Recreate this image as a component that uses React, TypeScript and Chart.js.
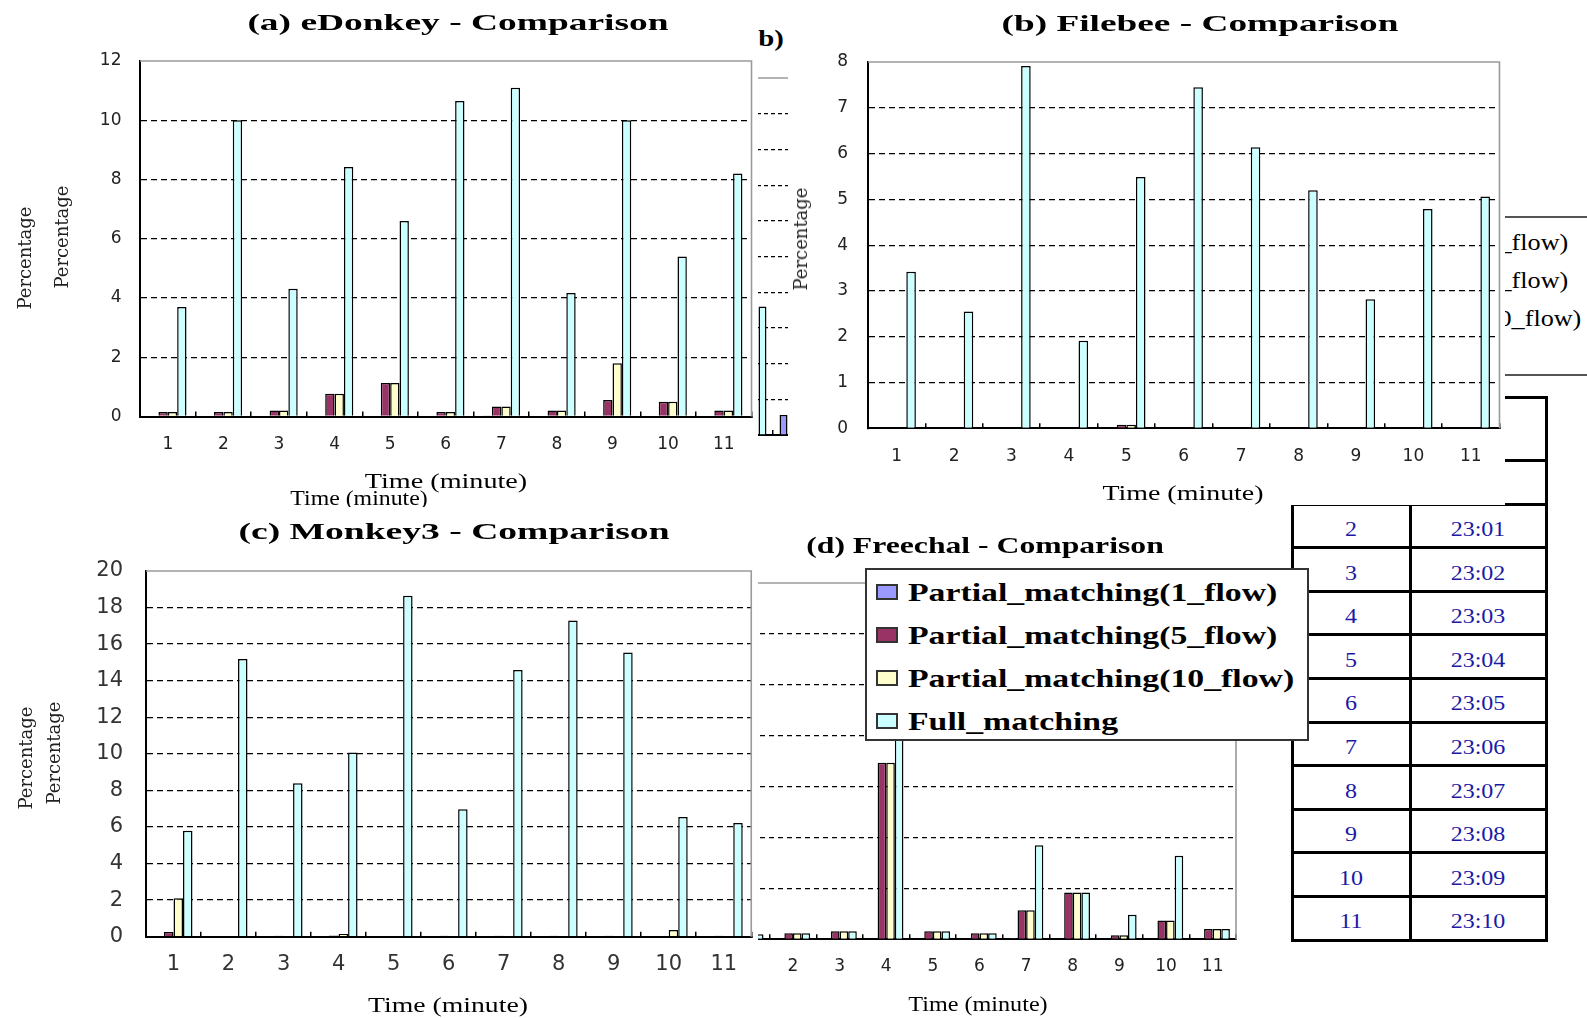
import React, { useEffect, useRef } from 'react';
import { Chart, registerables } from 'chart.js';
Chart.register(...registerables);

// ---------- DATA ----------
const categories = ['1', '2', '3', '4', '5', '6', '7', '8', '9', '10', '11'];
const seriesNames = ['Partial_matching(1_flow)', 'Partial_matching(5_flow)', 'Partial_matching(10_flow)', 'Full_matching'];
const seriesColors = ['#9999FF', '#993366', '#FFFFCC', '#CCFFFF'];

const eDonkeyP1 = [0, 0, 0, 0, 0, 0, 0.03, 0, 0, 0, 0];
const eDonkeyP5 = [0.15, 0.15, 0.2, 0.77, 1.13, 0.15, 0.34, 0.2, 0.56, 0.5, 0.2];
const eDonkeyP10 = [0.15, 0.15, 0.2, 0.77, 1.13, 0.15, 0.34, 0.2, 1.8, 0.5, 0.2];
const eDonkeyFull = [3.7, 10.0, 4.31, 8.42, 6.6, 10.65, 11.1, 4.17, 10.0, 5.4, 8.2];

const filebeeP1 = [0, 0, 0, 0, 0, 0, 0, 0, 0, 0, 0];
const filebeeP5 = [0, 0, 0, 0, 0.08, 0, 0, 0, 0, 0, 0];
const filebeeP10 = [0, 0, 0, 0, 0.08, 0, 0, 0, 0, 0, 0];
const filebeeFull = [3.42, 2.55, 7.91, 1.91, 5.49, 7.45, 6.14, 5.2, 2.82, 4.79, 5.06];

const monkey3P1 = [0, 0, 0, 0, 0, 0, 0, 0, 0, 0, 0];
const monkey3P5 = [0.26, 0, 0.05, 0.07, 0, 0.05, 0.05, 0.05, 0.05, 0, 0.05];
const monkey3P10 = [2.1, 0, 0, 0.15, 0, 0, 0, 0, 0, 0.37, 0];
const monkey3Full = [5.8, 15.19, 8.39, 10.07, 18.64, 6.97, 14.59, 17.29, 15.54, 6.55, 6.22];

const freechalP1 = [0, 0, 0, 0, 0, 0, 0.02, 0, 0, 0, 0];
const freechalP5 = [0.1, 0.12, 0.16, 3.47, 0.16, 0.12, 0.57, 0.92, 0.08, 0.37, 0.2];
const freechalP10 = [0.1, 0.12, 0.16, 3.47, 0.16, 0.12, 0.57, 0.92, 0.08, 0.37, 0.2];
const freechalFull = [0.1, 0.12, 0.16, 5.0, 0.16, 0.12, 1.85, 0.92, 0.48, 1.64, 0.2];

// partially visible panel "b)" between (a) and (b)
const fragmentCategories = ['10', '11'];
const fragmentP1 = [0, 0.56];
const fragmentP5 = [0, 0];
const fragmentP10 = [0, 0];
const fragmentFull = [3.6, 0];

const tableMinutes = categories;
const tableTimes = ['23:00', '23:01', '23:02', '23:03', '23:04', '23:05', '23:06', '23:07', '23:08', '23:09', '23:10'];

// ---------- LAYOUT ----------
type Spec = {
  left: number; top: number; width: number; height: number;
  plotLeft: number; plotRight: number; plotTop: number; plotBottom: number;
  labels: string[]; series: number[][]; yMax: number; yStep: number;
  catPct: number; tickFont: number; tickColor: string;
  showY: boolean; showX: boolean; yPad: number; xPad: number;
  dash: number[]; gridWidth: number;
};

const frame = {
  id: 'frame',
  beforeDatasetsDraw(chart: any) {
    const { ctx, chartArea } = chart;
    const { left, right, top, bottom } = chartArea;
    ctx.save();
    ctx.strokeStyle = '#9a9a9a';
    ctx.lineWidth = 1.6;
    ctx.beginPath();
    ctx.moveTo(left, top);
    ctx.lineTo(right, top);
    ctx.lineTo(right, bottom);
    ctx.stroke();
    ctx.restore();
  },
};

function makeConfig(s: Spec): any {
  const yW = s.plotLeft - s.left;
  const xH = s.top + s.height - s.plotBottom;
  return {
    type: 'bar',
    data: {
      labels: s.labels,
      datasets: s.series.map((d, i) => ({
        label: seriesNames[i],
        data: d,
        backgroundColor: seriesColors[i],
        borderColor: '#000',
        borderWidth: 1.5,
        barPercentage: 1,
        categoryPercentage: s.catPct,
      })),
    },
    options: {
      responsive: false,
      animation: false,
      devicePixelRatio: 1,
      layout: { padding: { left: 0, bottom: 0, top: s.plotTop - s.top, right: s.left + s.width - s.plotRight } },
      plugins: { legend: { display: false }, tooltip: { enabled: false }, title: { display: false } },
      scales: {
        x: {
          type: 'category',
          offset: true,
          z: 1,
          grid: { offset: true, drawOnChartArea: false, drawTicks: true, tickLength: -5, color: '#000', lineWidth: 1.5 },
          border: { display: true, color: '#000', width: 2 },
          ticks: {
            display: s.showX, padding: s.xPad, autoSkip: false, maxRotation: 0,
            font: { family: 'DejaVu Sans', size: s.tickFont }, color: s.tickColor,
          },
          afterFit: (sc: any) => { sc.height = xH; },
        },
        y: {
          min: 0,
          max: s.yMax,
          ticks: {
            stepSize: s.yStep, display: s.showY, padding: s.yPad,
            font: { family: 'DejaVu Sans', size: s.tickFont }, color: s.tickColor,
          },
          grid: {
            drawTicks: false,
            lineWidth: s.gridWidth,
            color: (c: any) => (c.tick && (c.tick.value === 0 || c.tick.value === s.yMax)) ? 'rgba(0,0,0,0)' : '#000',
          },
          border: { display: true, color: '#000', width: 2, dash: s.dash },
          afterFit: (sc: any) => { sc.width = yW; },
        },
      },
    },
    plugins: [frame],
  };
}

const specA: Spec = {
  left: 0, top: 0, width: 758, height: 507,
  plotLeft: 140, plotRight: 754, plotTop: 61, plotBottom: 416.5,
  labels: categories, series: [eDonkeyP1, eDonkeyP5, eDonkeyP10, eDonkeyFull], yMax: 12, yStep: 2,
  catPct: 0.674, tickFont: 17, tickColor: '#222', showY: true, showX: true, yPad: 18.5, xPad: 23.3,
  dash: [6, 4], gridWidth: 1.3,
};
const specB: Spec = {
  left: 788, top: 0, width: 717, height: 505,
  plotLeft: 868, plotRight: 1500.6, plotTop: 62, plotBottom: 428.3,
  labels: categories, series: [filebeeP1, filebeeP5, filebeeP10, filebeeFull], yMax: 8, yStep: 1,
  catPct: 0.668, tickFont: 17, tickColor: '#222', showY: true, showX: true, yPad: 20, xPad: 23.2,
  dash: [6, 4], gridWidth: 1.3,
};
const specC: Spec = {
  left: 0, top: 507, width: 758, height: 511,
  plotLeft: 146, plotRight: 753.7, plotTop: 571, plotBottom: 936.7,
  labels: categories, series: [monkey3P1, monkey3P5, monkey3P10, monkey3Full], yMax: 20, yStep: 2,
  catPct: 0.69, tickFont: 21, tickColor: '#333', showY: true, showX: true, yPad: 23, xPad: 20.7,
  dash: [6, 4], gridWidth: 1.3,
};
const specD: Spec = {
  left: 690, top: 505, width: 599, height: 513,
  plotLeft: 723, plotRight: 1236, plotTop: 583, plotBottom: 939.3,
  labels: categories, series: [freechalP1, freechalP5, freechalP10, freechalFull], yMax: 7, yStep: 1,
  catPct: 0.738, tickFont: 17, tickColor: '#222', showY: false, showX: true, yPad: 10, xPad: 22.2,
  dash: [5, 4], gridWidth: 1.3,
};
const specFrag: Spec = {
  left: 700, top: 0, width: 130, height: 505,
  plotLeft: 728, plotRight: 818, plotTop: 78, plotBottom: 435,
  labels: fragmentCategories, series: [fragmentP1, fragmentP5, fragmentP10, fragmentFull], yMax: 10, yStep: 1,
  catPct: 0.71, tickFont: 17, tickColor: '#222', showY: false, showX: false, yPad: 10, xPad: 20,
  dash: [4, 3], gridWidth: 1.2,
};

// ---------- COMPONENTS ----------
function BarChart({ spec }: { spec: Spec }) {
  const ref = useRef<HTMLCanvasElement>(null);
  useEffect(() => {
    const ch = new Chart(ref.current as HTMLCanvasElement, makeConfig(spec));
    return () => ch.destroy();
  }, []);
  return (
    <canvas
      ref={ref}
      width={spec.width}
      height={spec.height}
      style={{ position: 'absolute', left: spec.left, top: spec.top, width: spec.width, height: spec.height }}
    />
  );
}

function Txt(p: { x: number; y: number; text: string; size: number; family?: string; weight?: number; sx?: number; rot?: number; color?: string }) {
  const sx = p.sx ?? 1;
  let transform = 'translate(-50%,-50%)';
  if (p.rot) transform += ` rotate(${p.rot}deg)`;
  if (sx !== 1) transform += ` scaleX(${sx})`;
  return (
    <div style={{
      position: 'absolute', left: p.x, top: p.y, transform,
      fontFamily: p.family ?? "'Liberation Serif', serif", fontSize: p.size, fontWeight: p.weight ?? 400,
      lineHeight: 1, whiteSpace: 'nowrap', color: p.color ?? '#000',
    }}>{p.text}</div>
  );
}

function LTxt(p: { x: number; y: number; text: string; size: number; weight?: number; sx?: number; color?: string }) {
  return (
    <div style={{
      position: 'absolute', left: p.x, top: p.y, transform: `translateY(-50%) scaleX(${p.sx ?? 1})`,
      transformOrigin: 'left center', fontFamily: "'Liberation Serif', serif", fontSize: p.size,
      fontWeight: p.weight ?? 400, lineHeight: 1, whiteSpace: 'nowrap', color: p.color ?? '#000',
    }}>{p.text}</div>
  );
}

function Panel({ l, t, w, h, z, bg, children }: { l: number; t: number; w: number; h: number; z: number; bg?: string; children: any }) {
  return (
    <div style={{ position: 'absolute', left: l, top: t, width: w, height: h, overflow: 'hidden', background: bg ?? '#fff', zIndex: z }}>
      <div style={{ position: 'absolute', left: -l, top: -t, width: 1587, height: 1018 }}>{children}</div>
    </div>
  );
}

function Line({ x1, y1, x2, y2, w, color }: { x1: number; y1: number; x2: number; y2: number; w: number; color: string }) {
  const horiz = y1 === y2;
  return (
    <div style={{
      position: 'absolute', background: color,
      left: horiz ? x1 : x1 - w / 2, top: horiz ? y1 - w / 2 : y1,
      width: horiz ? x2 - x1 : w, height: horiz ? w : y2 - y1,
    }} />
  );
}

const PCT_FONT = "'DejaVu Serif', serif";

export default function App() {
  const tableTop = 397;
  const headerH = 63.5;
  const rowH = 43.6;
  const rowLines = [tableTop, tableTop + headerH, ...tableMinutes.map((_, i) => tableTop + headerH + (i + 1) * rowH)];
  const tableBottom = rowLines[rowLines.length - 1];
  const colX = [1292, 1410.5, 1546.5];

  return (
    <div style={{ position: 'fixed', left: 0, top: 0, width: 1587, height: 1018, background: '#fff', overflow: 'hidden' }}>
      {/* fragment of a hidden panel b) */}
      <Panel l={700} t={0} w={130} h={505} z={1} bg="transparent">
        <BarChart spec={specFrag} />
      </Panel>
      <Txt x={770.5} y={38} text="b)" size={24} weight={700} sx={1.2} />

      {/* fragment of another legend, mostly hidden */}
      <Panel l={1290} t={205} w={297} h={180} z={2} bg="transparent">
        <Line x1={1290} y1={216.7} x2={1587} y2={216.7} w={2} color="#555" />
        <Line x1={1290} y1={375} x2={1587} y2={375} w={2} color="#555" />
        {seriesNames.map((n, i) => (
          <LTxt key={n} x={1298} y={241.7 + i * 38.3} text={n} size={24} sx={1.09} />
        ))}
      </Panel>

      {/* table of minutes */}
      <div style={{ position: 'absolute', left: 0, top: 0, zIndex: 3 }}>
        {rowLines.map((y, i) => <Line key={'h' + i} x1={colX[0] - 1.5} y1={y} x2={colX[2] + 1.5} y2={y} w={3} color="#000" />)}
        {colX.map((x, i) => <Line key={'v' + i} x1={x} y1={tableTop} x2={x} y2={tableBottom} w={3} color="#000" />)}
        {tableMinutes.map((m, i) => {
          const yc = tableTop + headerH + i * rowH + rowH / 2 + 3;
          return (
            <React.Fragment key={m}>
              <Txt x={1351} y={yc} text={m} size={20} sx={1.2} color="#1a1aa6" />
              <Txt x={1478} y={yc} text={tableTimes[i]} size={20} sx={1.2} color="#1a1aa6" />
            </React.Fragment>
          );
        })}
      </div>

      {/* (d) Freechal */}
      <Panel l={690} t={505} w={599} h={513} z={4}>
        <BarChart spec={specD} />
        <Txt x={984.5} y={545} text="(d) Freechal - Comparison" size={24} weight={700} sx={1.32} />
        <Txt x={977.7} y={1004} text="Time (minute)" size={21} sx={1.15} />
      </Panel>

      {/* (a) eDonkey */}
      <Panel l={0} t={0} w={758} h={507} z={5}>
        <BarChart spec={specA} />
        <Txt x={458} y={21.5} text="(a) eDonkey - Comparison" size={24} weight={700} sx={1.56} />
        <Txt x={446.4} y={481} text="Time (minute)" size={22} sx={1.28} />
        <Txt x={359} y={497.5} text="Time (minute)" size={20} sx={1.19} />
        <Txt x={25} y={258} text="Percentage" size={18} rot={-90} family={PCT_FONT} color="#222" />
        <Txt x={61.7} y={236.5} text="Percentage" size={18} rot={-90} family={PCT_FONT} color="#222" />
      </Panel>

      {/* (b) Filebee */}
      <Panel l={788} t={0} w={717} h={505} z={5}>
        <BarChart spec={specB} />
        <Txt x={1199.5} y={22.5} text="(b) Filebee - Comparison" size={24} weight={700} sx={1.555} />
        <Txt x={1183} y={492.5} text="Time (minute)" size={22} sx={1.27} />
        <Txt x={801} y={239} text="Percentage" size={18} rot={-90} family={PCT_FONT} color="#222" />
      </Panel>

      {/* (c) Monkey3 */}
      <Panel l={0} t={507} w={758} h={511} z={6}>
        <BarChart spec={specC} />
        <Txt x={453.5} y={530.5} text="(c) Monkey3 - Comparison" size={24} weight={700} sx={1.566} />
        <Txt x={447.8} y={1005} text="Time (minute)" size={22} sx={1.26} />
        <Txt x={26} y={758.3} text="Percentage" size={18} rot={-90} family={PCT_FONT} color="#222" />
        <Txt x={53.5} y={752.5} text="Percentage" size={18} rot={-90} family={PCT_FONT} color="#222" />
      </Panel>

      {/* main legend */}
      <div style={{
        position: 'absolute', left: 864.5, top: 568.3, width: 444, height: 172.4, boxSizing: 'border-box',
        border: '2px solid #333', background: '#fff', zIndex: 10,
      }} />
      <div style={{ position: 'absolute', left: 0, top: 0, zIndex: 11 }}>
        {seriesNames.map((n, i) => {
          const yc = 591.7 + i * 43.1;
          return (
            <React.Fragment key={n}>
              <div style={{
                position: 'absolute', left: 876, top: yc - 8, width: 22, height: 16, boxSizing: 'border-box',
                border: '2px solid #333', background: seriesColors[i],
              }} />
              <LTxt x={908} y={yc} text={n} size={25} weight={700} sx={1.35} />
            </React.Fragment>
          );
        })}
      </div>
    </div>
  );
}
